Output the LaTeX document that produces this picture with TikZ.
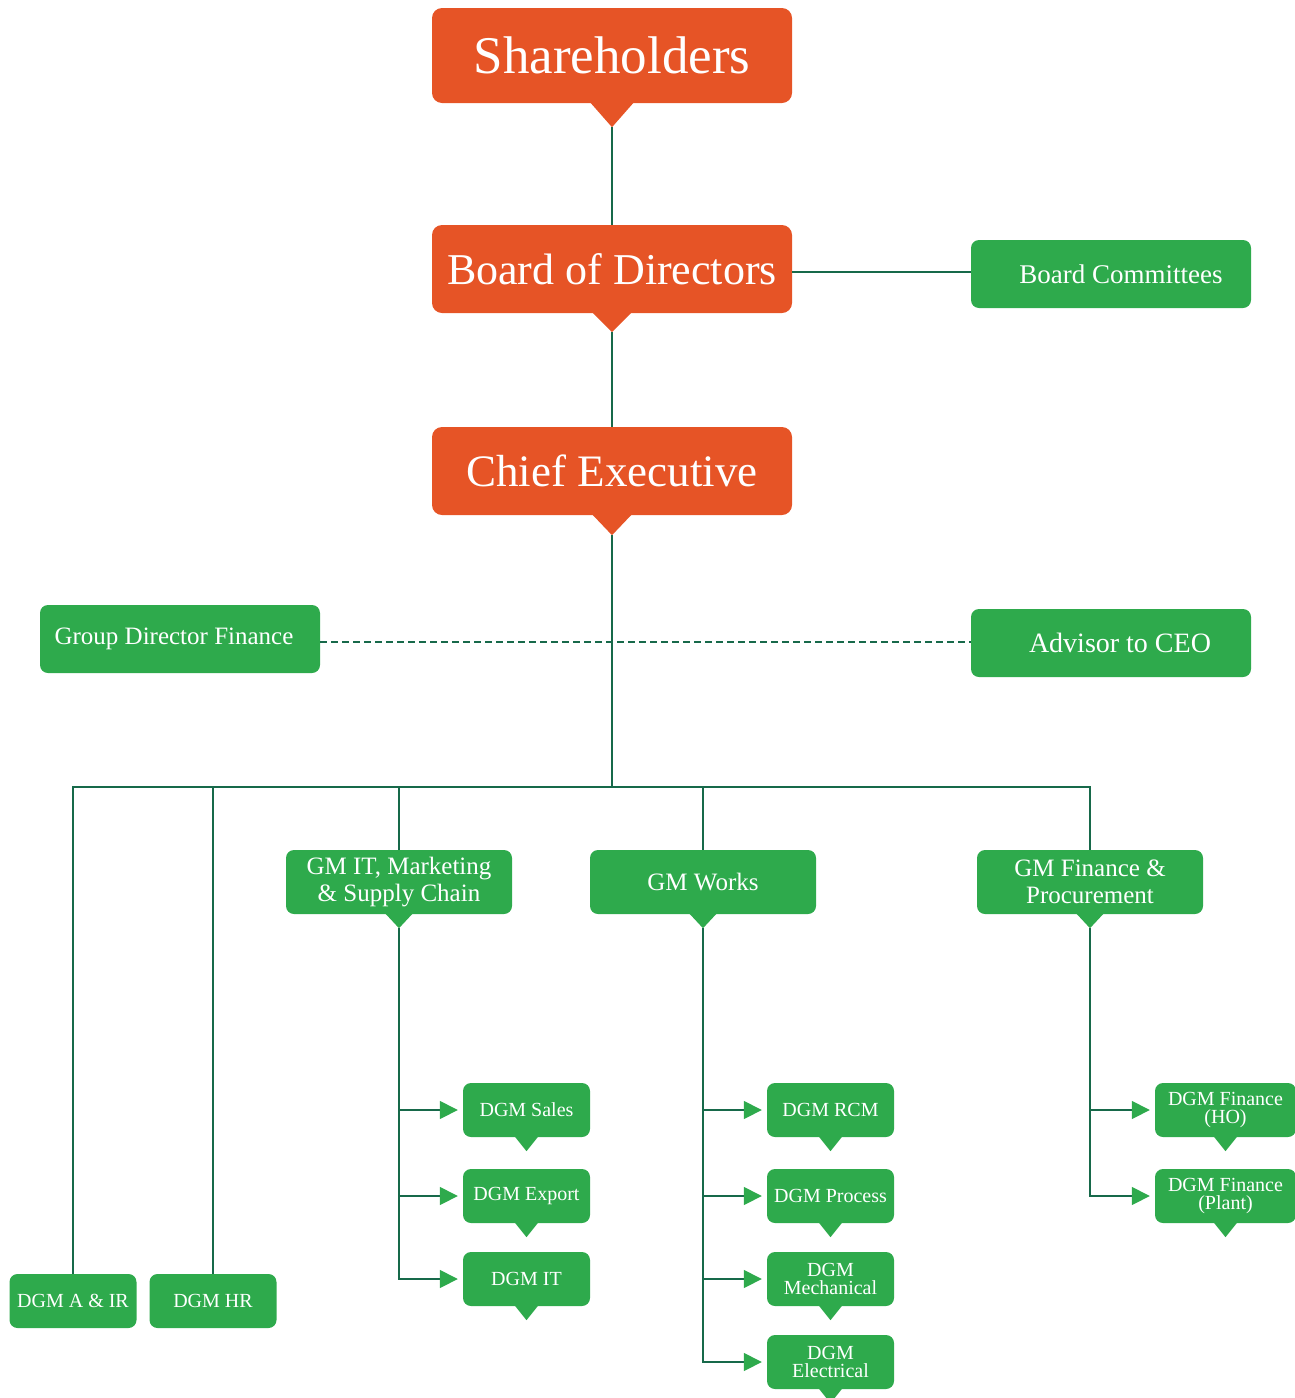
\documentclass[tikz,border=0pt]{standalone}
\usepackage{fontspec}
\setmainfont{Liberation Serif}
\usetikzlibrary{arrows.meta}
\definecolor{orng}{HTML}{E65426}
\definecolor{grn}{HTML}{2EAA4C}
\definecolor{lgr}{HTML}{17694A}
\newcommand\pointer[4]{%
  \fill[#4] ([xshift=-#2pt,yshift=1pt]#1.south) -- ([xshift=#2pt,yshift=1pt]#1.south) -- ([yshift=-#3pt]#1.south) -- cycle;
  \coordinate (#1T) at ([yshift=-#3pt]#1.south);}
\begin{document}
\begin{tikzpicture}[x=1pt,y=-1pt,
  obox/.style={fill=orng, text=white, rounded corners=10pt, minimum width=360pt, inner sep=0pt, align=center},
  gbox/.style={fill=grn, text=white, rounded corners=8pt, inner sep=0pt, align=center},
  gmbox/.style={gbox, minimum width=226pt, minimum height=64pt, font=\fontsize{25}{27}\selectfont},
  dgm/.style={gbox, minimum width=127pt, minimum height=54pt, font=\fontsize{20}{18}\selectfont},
  sidebox/.style={gbox, minimum width=280pt, minimum height=68pt},
  conn/.style={draw=lgr, line width=1.6pt},
  dconn/.style={conn, dash pattern=on 7pt off 4pt},
  arr/.style={conn, -{Triangle[length=18pt,width=18pt,color=grn]}}]
\useasboundingbox (0,0) rectangle (1294,1398);
% top level
\node[obox, minimum height=95pt, font=\fontsize{53}{60}\selectfont] (sh) at (612,55.5) {Shareholders};
\pointer{sh}{22}{24}{orng}
\node[obox, minimum height=88pt, font=\fontsize{44}{50}\selectfont] (bod) at (612,269) {Board of Directors};
\pointer{bod}{20}{19}{orng}
\node[obox, minimum height=88pt, font=\fontsize{45}{50}\selectfont] (ce) at (612,471) {Chief Executive};
\pointer{ce}{20}{20}{orng}
\node[sidebox, font=\fontsize{27}{30}\selectfont] (bc) at (1111,274) {\hspace*{20pt}Board Committees};
\node[sidebox, font=\fontsize{25}{28}\selectfont] (gdf) at (180,639) {Group Director Finance\hspace*{12pt}};
\node[sidebox, font=\fontsize{28}{30}\selectfont] (adv) at (1111,643) {\hspace*{18pt}Advisor to CEO};
% GM level
\node[gmbox] (gmit) at (399,882) {GM IT, Marketing\\\& Supply Chain};
\pointer{gmit}{14}{14}{grn}
\node[gmbox] (gmw) at (703,882) {GM Works};
\pointer{gmw}{14}{14}{grn}
\node[gmbox] (gmf) at (1090,882) {GM Finance \&\\Procurement};
\pointer{gmf}{14}{14}{grn}
% DGM level
\node[dgm] (air) at (73,1301) {DGM A \& IR};
\node[dgm] (hr) at (213,1301) {DGM HR};
\node[dgm] (sales) at (526.5,1110) {DGM Sales};
\pointer{sales}{12}{14}{grn}
\node[dgm] (exp) at (526.5,1196) {DGM Export};
\pointer{exp}{12}{14}{grn}
\node[dgm] (it) at (526.5,1279) {DGM IT};
\pointer{it}{12}{14}{grn}
\node[dgm] (rcm) at (830.5,1110) {DGM RCM};
\pointer{rcm}{12}{14}{grn}
\node[dgm] (proc) at (830.5,1196) {DGM Process};
\pointer{proc}{12}{14}{grn}
\node[dgm] (mech) at (830.5,1279) {DGM\\Mechanical};
\pointer{mech}{12}{14}{grn}
\node[dgm] (elec) at (830.5,1362) {DGM\\Electrical};
\pointer{elec}{12}{14}{grn}
\node[dgm, minimum width=141pt] (fho) at (1225.5,1110) {DGM Finance\\(HO)};
\pointer{fho}{12}{14}{grn}
\node[dgm, minimum width=141pt] (fpl) at (1225.5,1196) {DGM Finance\\(Plant)};
\pointer{fpl}{12}{14}{grn}
% connectors
\draw[conn] (shT) -- (bod.north);
\draw[conn] (bodT) -- (ce.north);
\draw[conn] ([yshift=-3pt]bod.east) -- ([yshift=-3pt]bod.east -| bc.west);
\draw[dconn] ([yshift=-3pt]gdf.east) -- ([yshift=-3pt]gdf.east -| adv.west);
\coordinate (bus) at (612,787);
\draw[conn] (ceT) -- (bus);
\foreach \n in {air,hr,gmit,gmw,gmf} \draw[conn] (bus) -| (\n.north);
\foreach \n in {sales,exp,it} \draw[arr] (gmitT) |- ([xshift=-5pt]\n.west);
\foreach \n in {rcm,proc,mech,elec} \draw[arr] (gmwT) |- ([xshift=-5pt]\n.west);
\foreach \n in {fho,fpl} \draw[arr] (gmfT) |- ([xshift=-5pt]\n.west);
\end{tikzpicture}
\end{document}
